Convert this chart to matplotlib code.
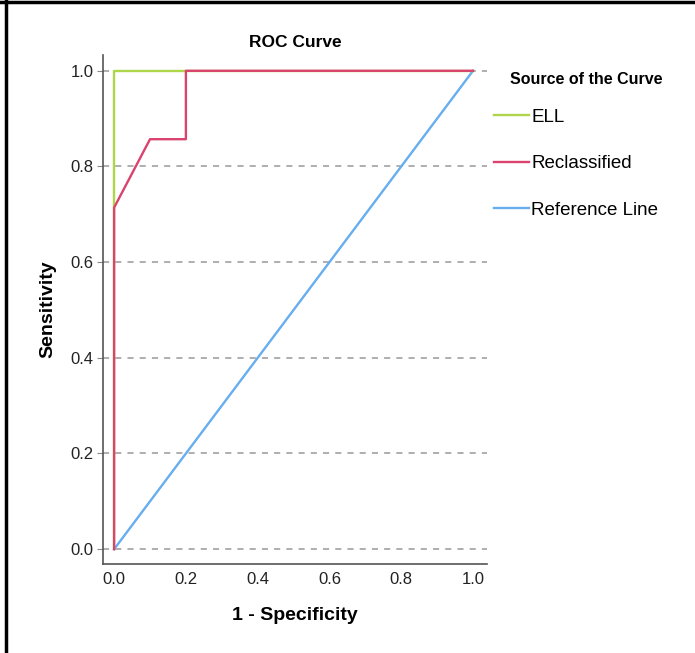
import matplotlib.pyplot as plt
from matplotlib.lines import Line2D

# ROC points
ell_x = [0.0, 0.0, 1.0]
ell_y = [0.0, 1.0, 1.0]
recl_x = [0.0, 0.0, 0.1, 0.2, 0.2, 1.0]
recl_y = [0.0, 0.714, 0.857, 0.857, 1.0, 1.0]
ref_x = [0.0, 1.0]
ref_y = [0.0, 1.0]
ticks = [0.0, 0.2, 0.4, 0.6, 0.8, 1.0]

plt.rcParams['font.family'] = ['Liberation Sans', 'DejaVu Sans']

fig = plt.figure(figsize=(6.95, 6.53), dpi=100)
ax = fig.add_axes([103/695, 1 - 564/653, (487-103)/695, (564-55)/653])

ax.plot(ell_x, ell_y, color='#aed64a', lw=1.7, label='ELL', zorder=3)
ax.plot(recl_x, recl_y, color='#d9436e', lw=1.7, label='Reclassified', zorder=4)
ax.plot(ref_x, ref_y, color='#66aef0', lw=1.7, label='Reference Line', zorder=2)

ax.set_xlim(-0.031, 1.039)
ax.set_ylim(-0.031, 1.033)
ax.set_xticks(ticks)
ax.set_yticks(ticks)
ax.set_xticklabels(['%.1f' % t for t in ticks], fontsize=12, color='#222222')
ax.set_yticklabels(['%.1f' % t for t in ticks], fontsize=12, color='#222222')
ax.tick_params(axis='x', length=0, pad=6)
ax.tick_params(axis='y', length=4, color='#888888', pad=3)
ax.yaxis.grid(True, linestyle=(0, (4, 4)), color='#999999', lw=1.1)
ax.set_axisbelow(True)
for s in ['top', 'right']:
    ax.spines[s].set_visible(False)
for s in ['left', 'bottom']:
    ax.spines[s].set_color('#555555')
    ax.spines[s].set_linewidth(1.2)

ax.set_title('ROC Curve', fontsize=12.5, fontweight='bold', pad=6)
ax.set_xlabel('1 - Specificity', fontsize=14, fontweight='bold', labelpad=14)
ax.set_ylabel('Sensitivity', fontsize=14, fontweight='bold', labelpad=10)

fig.text(510/695, 1 - 79/653, 'Source of the Curve', fontsize=11.5,
         fontweight='bold', va='center', ha='left')
leg = fig.legend(handles=ax.get_lines(), loc='upper left',
                 bbox_to_anchor=(477/695, 1 - 92/653), frameon=False,
                 fontsize=13.5, handlelength=1.85, handletextpad=0.15,
                 labelspacing=1.56)

# frame edges visible in the screenshot
fig.add_artist(Line2D([6/695, 6/695], [0, 1], color='black', lw=2.5, transform=fig.transFigure))
fig.add_artist(Line2D([0, 1], [1 - 1.5/653, 1 - 1.5/653], color='black', lw=2.5, transform=fig.transFigure))

fig.savefig('out.png', dpi=100)
